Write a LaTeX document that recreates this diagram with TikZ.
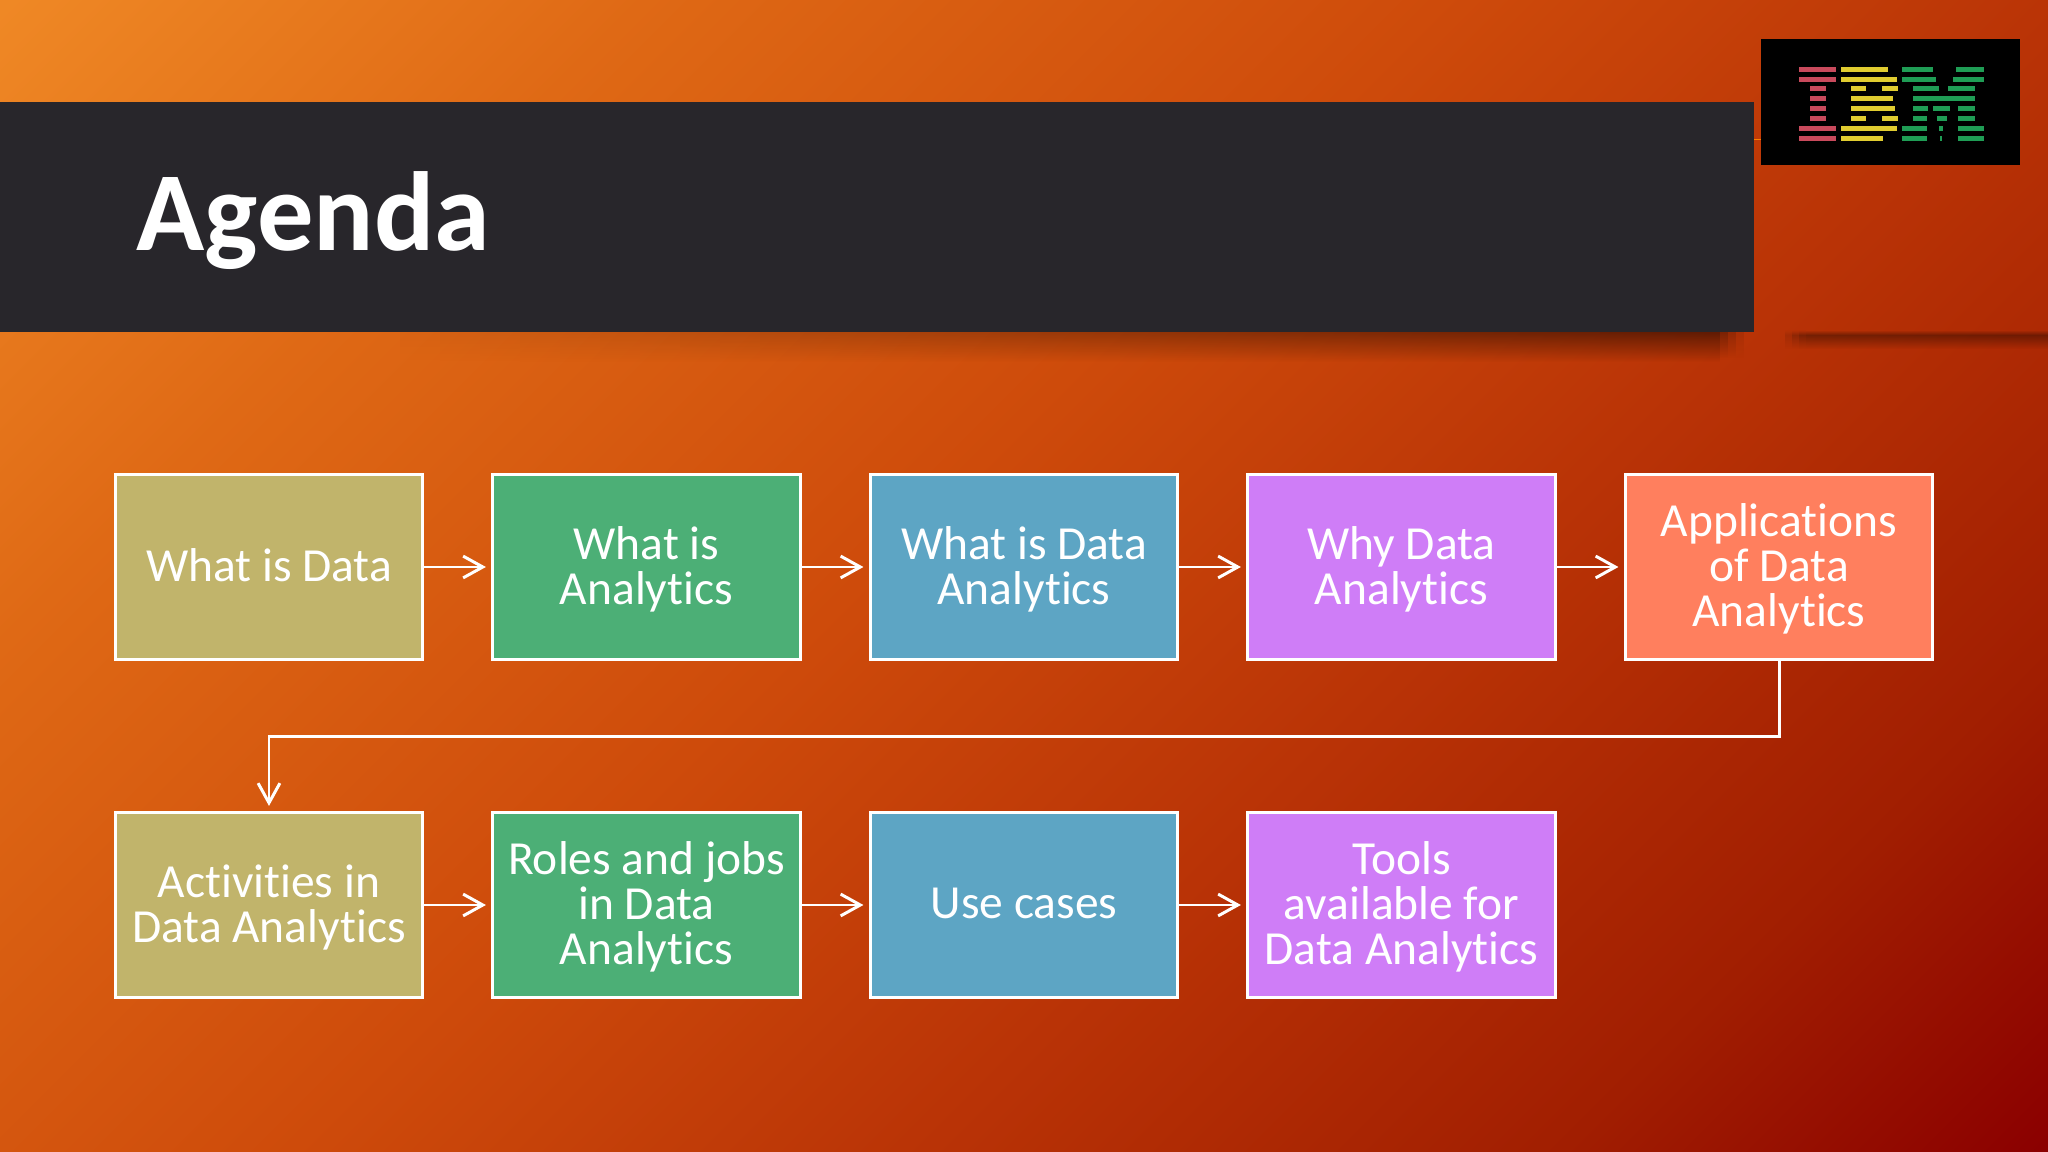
\documentclass[tikz,border=0pt]{standalone}
\usepackage{fontspec}
\setmainfont{Carlito}[Ligatures=CommonOff]
\usepackage{xcolor}
\usepackage{tikz}
\usetikzlibrary{arrows.meta,fadings}
\definecolor{bgA}{HTML}{EF8825}
\definecolor{bgB}{HTML}{DF6915}
\definecolor{bgC}{HTML}{CE4B0B}
\definecolor{bgD}{HTML}{B93306}
\definecolor{bgE}{HTML}{A11E01}
\definecolor{bgF}{HTML}{8B0000}
\definecolor{banner}{HTML}{28262B}
\definecolor{boxolive}{HTML}{C1B46B}
\definecolor{boxgreen}{HTML}{4CAF76}
\definecolor{boxblue}{HTML}{5DA5C4}
\definecolor{boxviolet}{HTML}{CF7DF7}
\definecolor{boxcoral}{HTML}{FF7F5E}
\definecolor{logored}{HTML}{C94A5C}
\definecolor{logoyellow}{HTML}{E0CC30}
\definecolor{logogreen}{HTML}{1F9D55}
\pgfdeclarehorizontalshading{slidebg}{100bp}{color(0bp)=(bgA); color(25bp)=(bgA); color(35bp)=(bgB); color(47.5bp)=(bgC); color(57.5bp)=(bgD); color(67.5bp)=(bgE); color(75bp)=(bgF); color(100bp)=(bgF)}
\tikzset{
  agendabox/.style={draw=white, line width=0.85pt, text=white, minimum width=3.07cm, minimum height=1.84cm,
    inner sep=0pt, outer sep=0pt, align=center, font=\fontsize{13.5}{12.8}\selectfont},
  flowline/.style={draw=white, line width=0.85pt, -{Straight Barb[length=5.6pt,width=6.2pt,line width=0.85pt]}, shorten >=0.07cm},
}
\newcommand{\lowedge}{\rule[-1.1pt]{0pt}{0pt}}
\newcommand{\topedge}{\rule{0pt}{10.6pt}}
\begin{document}
\begin{tikzpicture}[x=0.01cm, y=-0.01cm]
  \useasboundingbox (0,0) rectangle (2048,1152);
  \begin{scope}
    \clip (0,0) rectangle (2048,1152);
    \shade[shading=slidebg, shading angle=-45] (-107,-555) rectangle (2155,1707);
  \end{scope}
  \foreach \x in {400,440,...,1680}{
    \fill[black, opacity={0.02+0.46*(\x-400)/1280}, path fading=south] (\x,332) rectangle (\x+40,362);
  }
  \foreach \x/\op in {1720/0.34, 1728/0.2, 1736/0.08}{
    \fill[black, opacity=\op, path fading=south] (\x,332) rectangle (\x+8,358);
  }
  \foreach \x/\op in {1785/0.1, 1792/0.22, 1799/0.32}{
    \fill[black, opacity=\op, path fading=north] (\x,330) rectangle (\x+7,335);
    \fill[black, opacity=\op, path fading=south] (\x,335) rectangle (\x+7,349);
  }
  \fill[black, opacity=0.36, path fading=north] (1806,330) rectangle (2048,335);
  \fill[black, opacity=0.36, path fading=south] (1806,335) rectangle (2048,349);
  \fill[banner] (0,102) rectangle (1754,332);
  \node[anchor=base west, inner sep=0pt, text=white, font=\fontsize{32}{36}\selectfont\bfseries] (title) at (136,251) {Agenda};
  \fill[orange] (1754,139.5) rectangle (1761,140.5);
  \fill[black] (1761,39) rectangle (2020,165);
  \foreach \r/\a/\b in {70/1799/1836, 80/1799/1836, 89/1810/1826, 99/1810/1826, 109/1810/1826, 119/1810/1826, 129/1799/1836, 139/1799/1836}{
    \fill[logored] (\a,\r-2.5) rectangle (\b,\r+2.5);
  }
  \foreach \r/\a/\b in {70/1841/1888, 80/1841/1897, 89/1851/1866, 89/1882/1898, 99/1851/1893, 109/1851/1895, 119/1851/1866, 119/1882/1898, 129/1841/1897, 139/1841/1883}{
    \fill[logoyellow] (\a,\r-2.5) rectangle (\b,\r+2.5);
  }
  \foreach \r/\a/\b in {70/1902/1933, 70/1956/1984, 80/1902/1936, 80/1953/1984, 89/1913/1939, 89/1948/1975, 99/1913/1975, 109/1913/1928, 109/1933/1950, 109/1958/1975, 119/1913/1927, 119/1937/1947, 119/1958/1975, 129/1902/1927, 129/1939/1943, 129/1958/1984, 139/1902/1927, 139/1940/1942, 139/1958/1984}{
    \fill[logogreen] (\a,\r-2.5) rectangle (\b,\r+2.5);
  }
  \foreach \name/\x/\y/\col/\txt in {
    whatdata/269/567/boxolive/{What is Data\lowedge},
    whatana/646.5/567/boxgreen/{\topedge What is\\Analytics},
    whatda/1024/567/boxblue/{\topedge What is Data\\Analytics},
    whyda/1401.5/567/boxviolet/{\topedge Why Data\\Analytics},
    apps/1779/567/boxcoral/{\topedge Applications\\of Data\\Analytics},
    activities/269/905/boxolive/{\topedge Activities in\\Data Analytics},
    roles/646.5/905/boxgreen/{\topedge Roles and jobs\\in Data\\Analytics},
    usecases/1024/905/boxblue/{Use cases\lowedge},
    tools/1401.5/905/boxviolet/{\topedge Tools\\available for\\Data Analytics}}{
    \node[agendabox, fill=\col] (\name) at (\x,\y) {\txt};
  }
  \foreach \a/\b in {whatdata/whatana, whatana/whatda, whatda/whyda, whyda/apps, activities/roles, roles/usecases, usecases/tools}{
    \draw[flowline] (\a) -- (\b);
  }
  \coordinate (turn) at (269,736.5);
  \draw[flowline] (apps.south) |- (turn) -- (activities.north);
\end{tikzpicture}
\end{document}
